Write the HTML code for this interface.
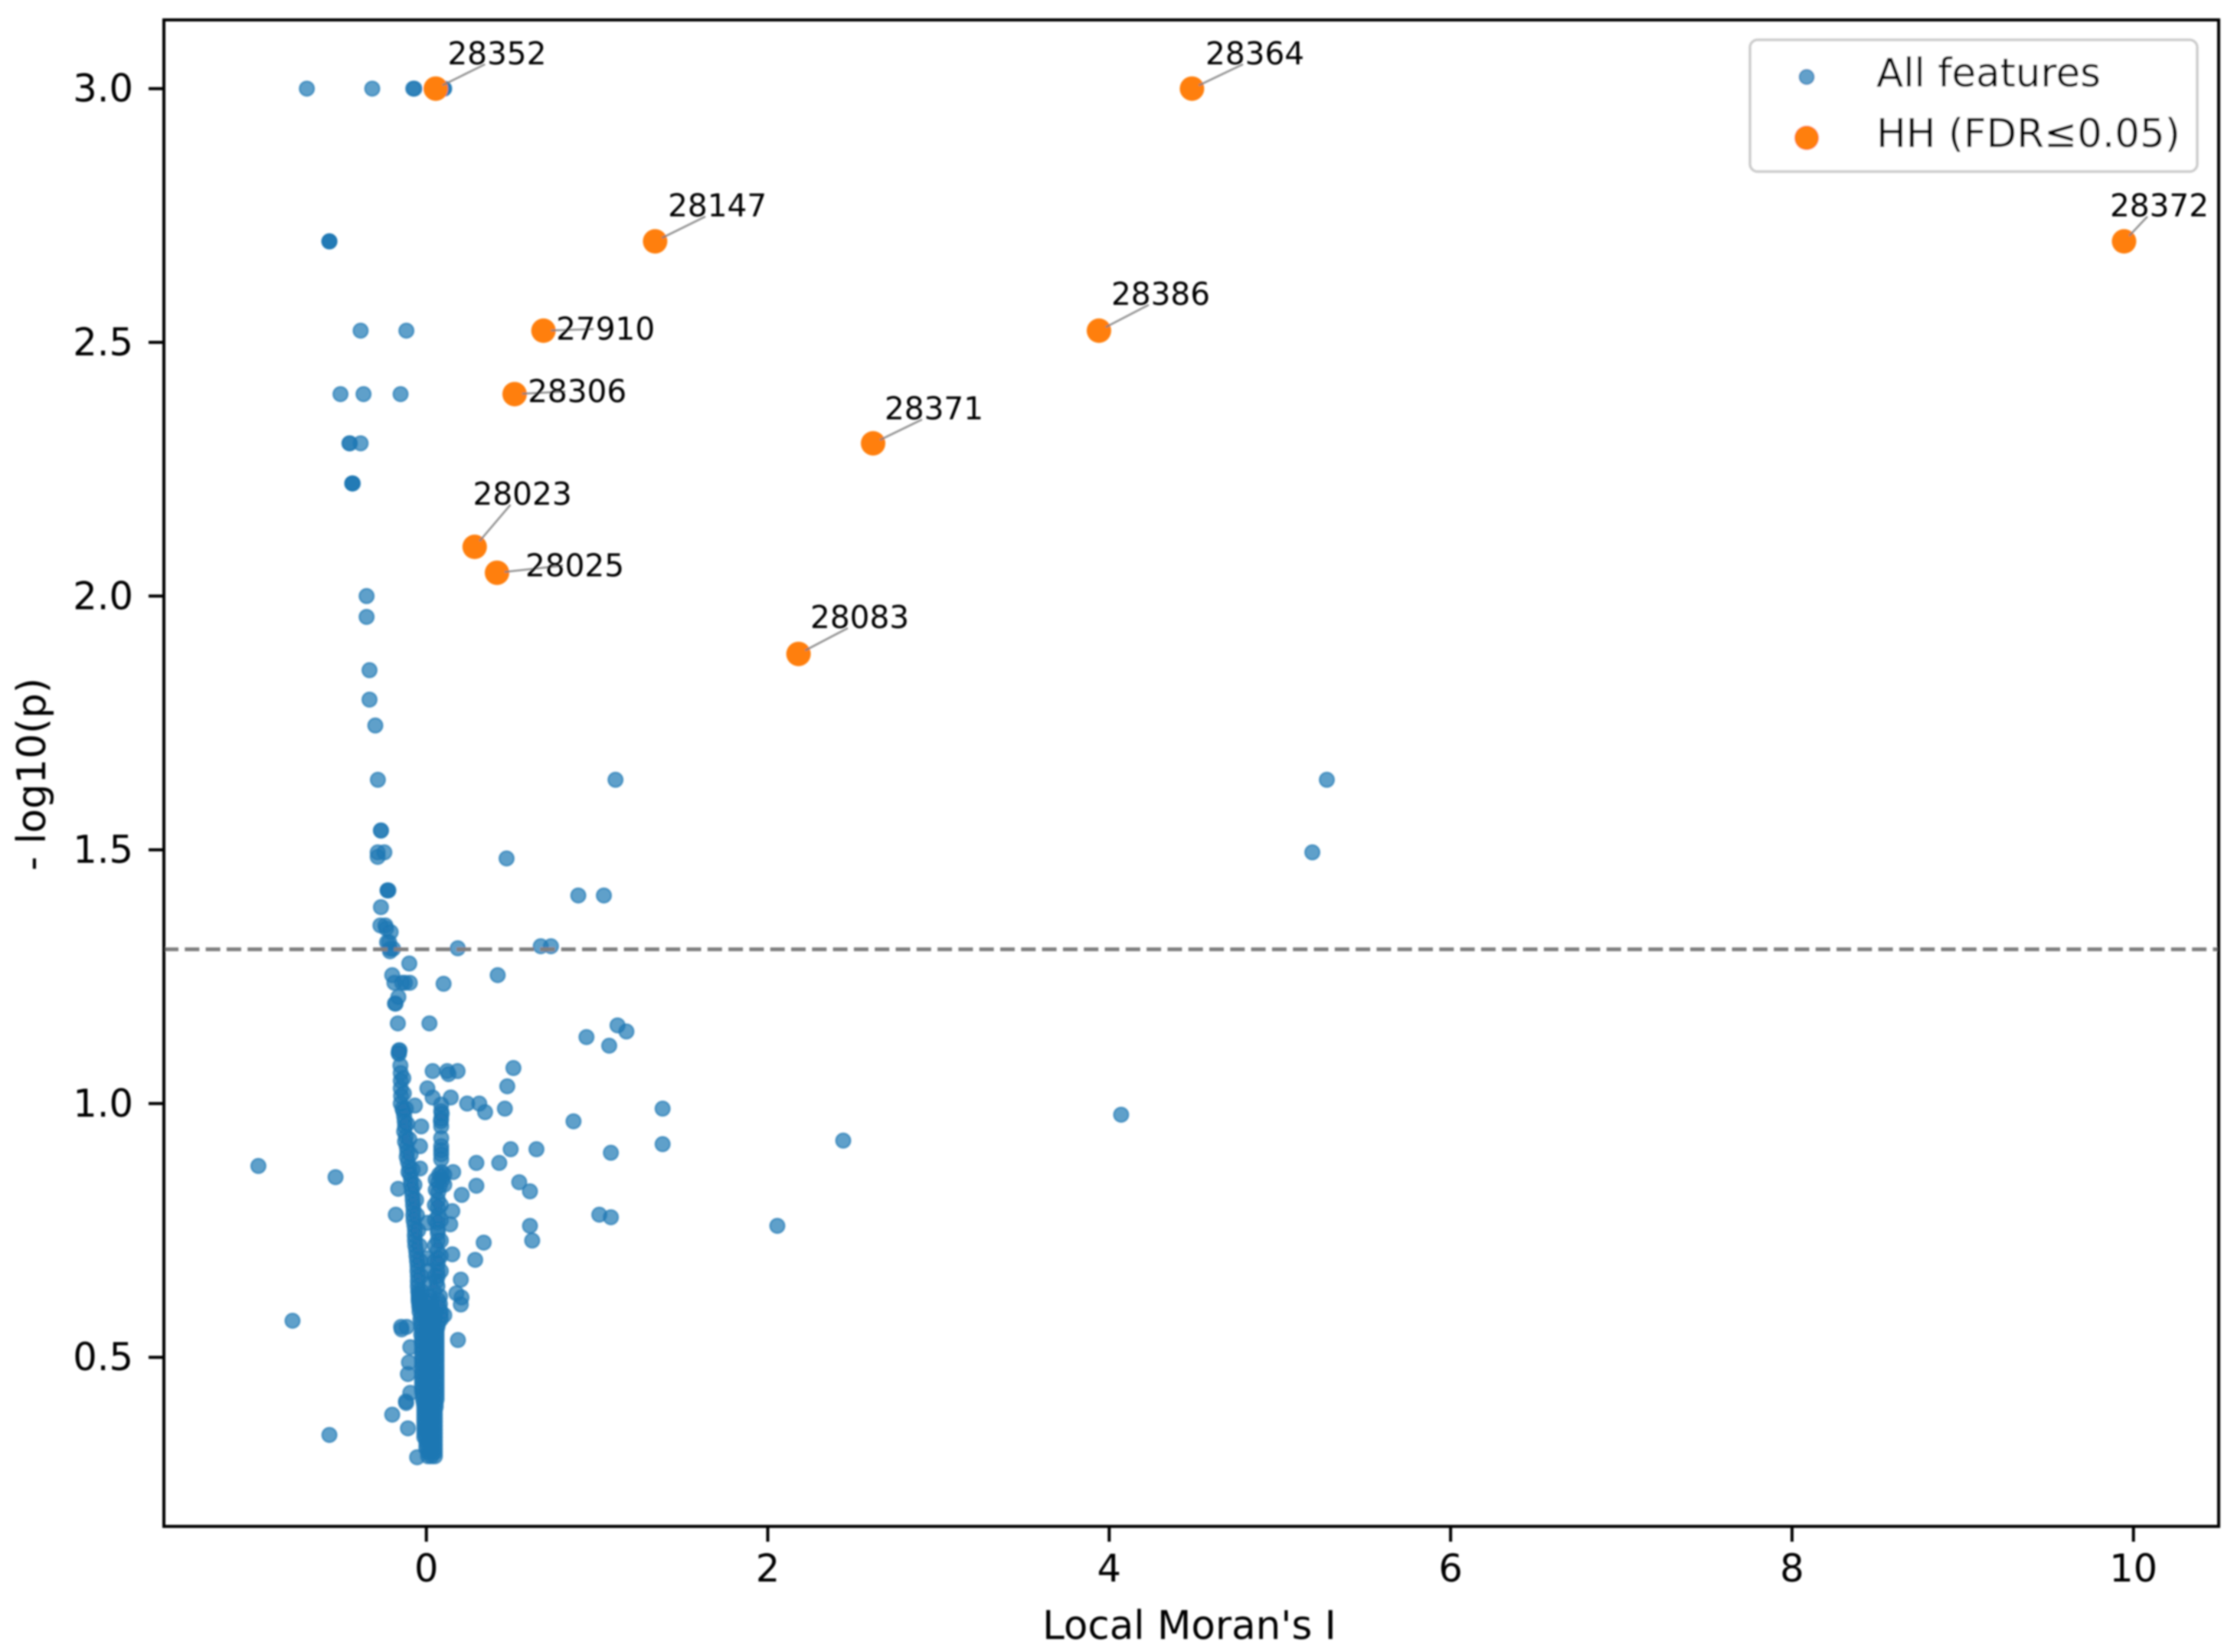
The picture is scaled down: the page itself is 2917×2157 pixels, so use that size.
<!DOCTYPE html>
<html lang="en">
<head>
<meta charset="utf-8">
<title>Local Moran's I volcano plot</title>
<style>
html,body{margin:0;padding:0;background:#fff;}
svg{display:block;}
text{font-family:"DejaVu Sans","Liberation Sans",sans-serif;fill:#000;}
</style>
</head>
<body>
<svg id="chart" xmlns="http://www.w3.org/2000/svg" width="2917" height="2157" viewBox="0 0 2917 2157">
  <defs>
    <filter id="soft" filterUnits="userSpaceOnUse" x="0" y="0" width="2917" height="2157">
      <feGaussianBlur stdDeviation="1.0"/>
    </filter>
  </defs>
  <rect x="0" y="0" width="2917" height="2157" fill="#fff"/>
  <g id="root" filter="url(#soft)"></g>
</svg>
<script>
const xTickValues = [0, 2, 4, 6, 8, 10];
const xTickLabels = ['0', '2', '4', '6', '8', '10'];
const yTickValues = [0.5, 1.0, 1.5, 2.0, 2.5, 3.0];
const yTickLabels = ['0.5', '1.0', '1.5', '2.0', '2.5', '3.0'];
const significanceThreshold = 1.304;

const allMoranI = [
-.70,-.317,-.077,-.07,.07,.09,.105,.085,.1,
-.568,-.568,-.568,
-.385,-.117,
-.503,-.368,-.151,
-.451,-.448,-.385,
-.434,-.434,-.431,
-.35,-.35,-.333,-.333,-.299,-.284,
-.266,-.266,-.285,-.285,-.246,
.47,1.108,5.275,5.19,
-.227,-.227,-.222,-.266,
-.269,-.24,-.209,-.235,
-.218,-.23,-.213,-.195,-.213,
.184,.67,.73,.89,1.04,
-.10,-.20,.418,
-.187,-.142,-.097,-.125,.101,
-.164,-.184,-.18,-.167,.018,
.938,1.12,1.172,1.071,
-.16,-.157,-.163,-.16,
.037,.122,.13,.183,.51,.474,
.006,.037,.143,.239,.31,.344,.46,
.862,1.384,1.384,1.081,.494,.645,
.293,.427,-.984,-.532,.544,.607,
.293,.207,-.165,-.179,1.013,1.081,
.152,.14,.607,.62,2.056,2.442,4.07,
.336,.286,.152,.202,.176,.206,.202,
.105,.185,-.784,-.568,
-.148,-.145,-.115,-.094,-.102,-.108,
-.12,-.118,-.094,-.2,-.108,-.054,
-.067,-.03,-.037,-.037,.157,
-.152,-.15,-.15,-.15,-.148,-.15,
-.14,-.135,-.13,-.127,-.125,-.13,
-.12,-.125,-.115,-.112,-.115,-.108,
-.1,-.105,-.095,-.09,-.09,-.085,
-.082,-.08,-.078,-.075,-.077,-.075,
-.07,-.067,-.068,-.067,-.065,-.06,
-.058,-.055,-.052,-.052,-.05,-.05,
-.05,-.048,-.045,-.045,-.045,-.042,
-.135,-.132,-.12,-.112,-.1,
-.092,-.08,-.07,-.06,-.055,
-.048,-.04,-.035,-.03,-.028,
.087,.087,.09,.087,.085,.087,
.087,.087,.087,.087,.087,
.09,.075,.085,.095,.07,.08,
.07,.068,.067,.07,.065,.067,
.067,.067,.065,.068,.067,.066,
.067,.06,.065,
.105,.105,.055,.055,.05,.05,
.085,.085,.085,.05,.05,.05,.085,.085,
.006,.006,.008,.02,.045,
-.045,.02,.08,
-.04,.015,.08,
-.04,.02,.085,
-.035,.025,.085,
-.03,.02,.065,
-.03,.02,.06,
-.027,.02,.06,
-.025,.02,.06,
-.025,.02,.06,
-.025,.02,.06,
-.025,.02,.06,
-.025,.02,.06,
-.025,.02,.06,
-.02,.02,.06,
-.015,.02,.055,
-.012,.02,.05,
-.012,.02,.05,
-.012,.02,.05,
-.012,.02,.05,
0,.02,.05,
0,.025,.05,
.01,.03,.05,
-.035,-.005,.03,.07,
-.035,0,.03,.075,
-.03,0,.04,.085,
-.03,0,.04,.07,
-.025,0,.04,.06,
-.025,0,.04,.06,
-.025,0,.04,.06,
-.025,0,.04,.06,
-.025,0,.04,.06,
-.025,0,.04,.06,
-.025,0,.04,.06,
-.025,0,.04,.06,
-.025,0,.04,.06,
-.02,0,.04,.06,
-.012,0,.04,.055,
-.012,0,.035,.05,
-.012,0,.035,.05,
-.012,0,.035,.05,
-.012,0,.035,.05,
0,.015,.035,.05,
.01,.02,.04,.05
];

const allLogP = [
3,3,3,3,3,3,3,3,3,
2.699,2.699,2.699,
2.523,2.523,
2.398,2.398,2.398,
2.301,2.301,2.301,
2.222,2.222,2.222,
2,1.959,1.854,1.796,1.745,1.638,
1.538,1.538,1.495,1.486,1.495,
1.483,1.638,1.638,1.495,
1.42,1.42,1.42,1.387,
1.351,1.351,1.338,1.345,
1.318,1.318,1.305,1.305,1.3,
1.306,1.31,1.31,1.41,1.41,
1.276,1.253,1.253,
1.238,1.238,1.238,1.238,1.236,
1.21,1.197,1.197,1.158,1.158,
1.131,1.154,1.142,1.114,
1.105,1.105,1.1,1.098,
1.064,1.064,1.058,1.064,1.07,1.034,
1.03,1.012,1.012,1,1,.983,.99,
.965,.99,.92,.903,.91,.91,
.883,.883,.877,.855,.845,.827,
.838,.82,.832,.781,.781,.776,
.788,.762,.759,.73,.759,.927,.978,
.726,.692,.703,.653,.626,.618,.604,
.583,.534,.572,.347,
.56,.555,.56,.52,.49,.467,
.413,.41,.43,.387,.36,.303,
.996,.955,.916,.872,.865,
1.075,1.06,1.045,1.03,1.015,1,
.99,.985,.975,.965,.955,.945,
.935,.925,.915,.905,.895,.885,
.875,.865,.86,.85,.84,.83,
.82,.81,.80,.79,.78,.77,
.76,.75,.74,.73,.72,.71,
.70,.69,.68,.67,.66,.65,
.64,.63,.625,.615,.61,.60,
1.05,1.02,.99,.96,.93,
.90,.87,.84,.81,.78,
.75,.72,.69,.66,.63,
.998,.985,.98,.97,.965,.955,
.932,.916,.908,.9,.89,
.865,.86,.855,.85,.845,.838,
.826,.81,.795,.78,.765,.752,
.745,.73,.71,.695,.685,.67,
.66,.65,.64,
.86,.84,.85,.83,.8,.77,
.8,.77,.73,.72,.69,.66,.70,.67,
.765,.695,.67,.645,.63,
.62,.62,.62,
.605,.605,.605,
.59,.59,.59,
.575,.575,.575,
.56,.56,.56,
.545,.545,.545,
.53,.53,.53,
.515,.515,.515,
.5,.5,.5,
.485,.485,.485,
.47,.47,.47,
.455,.455,.455,
.44,.44,.44,
.425,.425,.425,
.41,.41,.41,
.395,.395,.395,
.38,.38,.38,
.365,.365,.365,
.35,.35,.35,
.335,.335,.335,
.32,.32,.32,
.305,.305,.305,
.6125,.6125,.6125,.6125,
.5975,.5975,.5975,.5975,
.5825,.5825,.5825,.5825,
.5675,.5675,.5675,.5675,
.5525,.5525,.5525,.5525,
.5375,.5375,.5375,.5375,
.5225,.5225,.5225,.5225,
.5075,.5075,.5075,.5075,
.4925,.4925,.4925,.4925,
.4775,.4775,.4775,.4775,
.4625,.4625,.4625,.4625,
.4475,.4475,.4475,.4475,
.4325,.4325,.4325,.4325,
.4175,.4175,.4175,.4175,
.4025,.4025,.4025,.4025,
.3875,.3875,.3875,.3875,
.3725,.3725,.3725,.3725,
.3575,.3575,.3575,.3575,
.3425,.3425,.3425,.3425,
.3275,.3275,.3275,.3275,
.3125,.3125,.3125,.3125
];

const hhIds = ['28352','28364','28147','28372','27910','28386','28306','28371','28023','28025','28083'];
const hhMoranI = [0.055, 4.485, 1.34, 9.945, 0.686, 3.94, 0.517, 2.617, 0.283, 0.414, 2.18];
const hhLogP = [3.0, 3.0, 2.699, 2.699, 2.523, 2.523, 2.398, 2.301, 2.097, 2.046, 1.886];
const hhLabelMoranI = [0.124, 4.564, 1.415, 9.862, 0.76, 4.012, 0.594, 2.684, 0.273, 0.58, 2.249];
const hhLabelLogP = [3.048, 3.048, 2.748, 2.748, 2.505, 2.574, 2.382, 2.348, 2.18, 2.039, 1.937];
const legendLabels = ['All features', 'HH (FDR\u22640.05)'];

const plotLeft = 214, plotRight = 2897, plotTop = 26, plotBottom = 1993;
function xScale(v) { return 556.7 + 222.9 * v; }
function yScale(v) { return 115.7 + (3 - v) * 662.6; }

const NS = 'http://www.w3.org/2000/svg';
const root = document.getElementById('root');
function make(tag, attrs, parent) {
  const el = document.createElementNS(NS, tag);
  for (const k in attrs) el.setAttribute(k, attrs[k]);
  (parent || root).appendChild(el);
  return el;
}

const pointsGroup = make('g', {});


allMoranI.forEach(function (v, i) {
  const dot = make('circle', {cx: xScale(v), cy: yScale(allLogP[i]), r: 9.5, fill: '#1f77b4', 'fill-opacity': 0.7, stroke: '#1f77b4', 'stroke-opacity': 0.7, 'stroke-width': 2}, pointsGroup);
  
  
});

const thresholdLine = make('line', {x1: plotLeft, x2: plotRight, y1: yScale(significanceThreshold), y2: yScale(significanceThreshold), stroke: '#808080', 'stroke-width': 5, 'stroke-dasharray': '19 8.3'});



const hhGroup = make('g', {});


hhMoranI.forEach(function (v, i) {
  const dot = make('circle', {cx: xScale(v), cy: yScale(hhLogP[i]), r: 16, fill: '#ff7f0e'}, hhGroup);
  
  
});

hhIds.forEach(function (id, i) {
  const px = xScale(hhMoranI[i]), py = yScale(hhLogP[i]);
  const tx = xScale(hhLabelMoranI[i]), ty = yScale(hhLabelLogP[i]);
  const ex = tx + 49;
  const ey = ty < py - 18 ? ty : ty - 14;
  const len = Math.hypot(ex - px, ey - py) || 1;
  const leader = make('line', {x1: px + (ex - px) / len * 10, y1: py + (ey - py) / len * 10, x2: ex, y2: ey, stroke: '#808080', 'stroke-opacity': 0.85, 'stroke-width': 2.6});
  
  
  const label = make('text', {x: tx, y: ty, 'font-size': 40.6});
  label.textContent = id;
  
  
});

xTickValues.forEach(function (v, i) {
  const x = xScale(v);
  const tick = make('line', {x1: x, x2: x, y1: plotBottom, y2: plotBottom + 20, stroke: '#000', 'stroke-width': 4});
  
  
  const label = make('text', {x: x, y: 2065, 'font-size': 49.5, 'text-anchor': 'middle'});
  label.textContent = xTickLabels[i];
  
  
});

yTickValues.forEach(function (v, i) {
  const y = yScale(v);
  const tick = make('line', {x1: plotLeft - 20, x2: plotLeft, y1: y, y2: y, stroke: '#000', 'stroke-width': 4});
  
  
  const label = make('text', {x: 174, y: y + 17, 'font-size': 49.5, 'text-anchor': 'end'});
  label.textContent = yTickLabels[i];
  
  
});

const frame = make('rect', {x: plotLeft, y: plotTop, width: plotRight - plotLeft, height: plotBottom - plotTop, fill: 'none', stroke: '#000', 'stroke-width': 4});



const xTitle = make('text', {x: 1553, y: 2140, 'font-size': 51.5, 'text-anchor': 'middle'});
xTitle.textContent = "Local Moran's I";



const yTitle = make('text', {x: 0, y: 0, 'font-size': 51.5, 'text-anchor': 'middle', transform: 'translate(59 1011) rotate(-90)'});
yTitle.textContent = '- log10(p)';



const legend = make('g', {});


const legendBox = make('rect', {x: 2285, y: 52, width: 584, height: 172, rx: 10, ry: 10, fill: '#fff', 'fill-opacity': 0.8, stroke: '#cccccc', 'stroke-width': 3.5}, legend);


const legendBlue = make('circle', {cx: 2359, cy: 100.5, r: 9.5, fill: '#1f77b4', 'fill-opacity': 0.7, stroke: '#1f77b4', 'stroke-opacity': 0.7, 'stroke-width': 2}, legend);


const legendOrange = make('circle', {cx: 2359, cy: 180, r: 16, fill: '#ff7f0e'}, legend);


const legendText1 = make('text', {x: 2450, y: 113, 'font-size': 51.5}, legend);
legendText1.textContent = legendLabels[0];


const legendText2 = make('text', {x: 2450, y: 192, 'font-size': 51.5}, legend);
legendText2.textContent = legendLabels[1];


</script>
</body>
</html>
